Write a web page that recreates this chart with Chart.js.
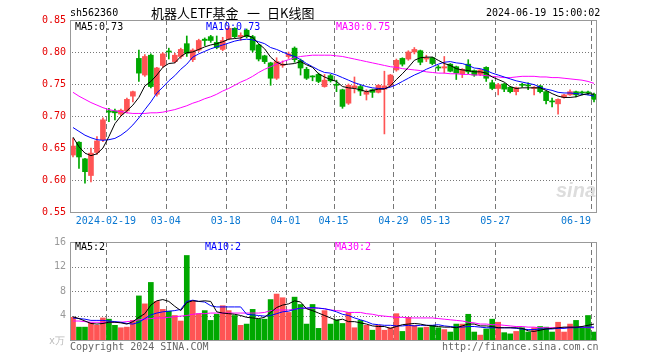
<!DOCTYPE html>
<html>
<head>
<meta charset="utf-8">
<script src="https://cdn.jsdelivr.net/npm/chart.js@4.4.1/dist/chart.umd.min.js"></script>
<style>
  body { margin: 0; background: #fff; }
  #wrap { position: relative; width: 660px; height: 360px; overflow: hidden;
          font-family: 'DejaVu Sans Mono', monospace; font-size: 10px; color: #000; }
  #wrap canvas { position: absolute; left: 0; }
  .t { position: absolute; white-space: pre; line-height: 10px; }
  .cjk { font-family: 'Noto Sans CJK SC', sans-serif; font-size: 13px; line-height: 14px; }
</style>
</head>
<body>
<div id="wrap">
  <canvas id="price" width="660" height="232" style="top:0"></canvas>
  <canvas id="vol" width="660" height="128" style="top:232px"></canvas>

  <div class="t" style="left:70px;top:8px">sh562360</div>
  <div class="t cjk" style="left:151px;top:6px">机器人ETF基金</div>
  <div class="t cjk" style="left:247px;top:6px">一</div>
  <div class="t cjk" style="left:267px;top:6px">日K线图</div>
  <div class="t" style="left:486px;top:8px">2024-06-19 15:00:02</div>

  <div class="t" style="left:75px;top:22px">MA5:0.73</div>
  <div class="t" style="left:206px;top:22px;color:#0000ff">MA10:0.73</div>
  <div class="t" style="left:336px;top:22px;color:#ff00ff">MA30:0.75</div>

  <div class="t" style="left:75px;top:242px">MA5:2</div>
  <div class="t" style="left:205px;top:242px;color:#0000ff">MA10:2</div>
  <div class="t" style="left:335px;top:242px;color:#ff00ff">MA30:2</div>

  <div class="t" style="left:49px;top:336px;color:#bbb">x万</div>
  <div class="t" style="left:70px;top:342px;color:#666">Copyright 2024 SINA.COM</div>
  <div class="t" style="left:442px;top:342px;color:#666">http://finance.sina.com.cn</div>
  <div class="t" style="left:556px;top:180px;font:italic bold 20px 'Liberation Sans',sans-serif;line-height:20px;color:#ddd">sina</div>
</div>

<script>
// trading days shown on the x axis
const dates = [
    '2024-02-01','2024-02-02','2024-02-05','2024-02-06','2024-02-07','2024-02-08','2024-02-19','2024-02-20','2024-02-21','2024-02-22',
    '2024-02-23','2024-02-26','2024-02-27','2024-02-28','2024-02-29','2024-03-01','2024-03-04','2024-03-05','2024-03-06','2024-03-07',
    '2024-03-08','2024-03-11','2024-03-12','2024-03-13','2024-03-14','2024-03-15','2024-03-18','2024-03-19','2024-03-20','2024-03-21',
    '2024-03-22','2024-03-25','2024-03-26','2024-03-27','2024-03-28','2024-03-29','2024-04-01','2024-04-02','2024-04-03','2024-04-08',
    '2024-04-09','2024-04-10','2024-04-11','2024-04-12','2024-04-15','2024-04-16','2024-04-17','2024-04-18','2024-04-19','2024-04-22',
    '2024-04-23','2024-04-24','2024-04-25','2024-04-26','2024-04-29','2024-04-30','2024-05-06','2024-05-07','2024-05-08','2024-05-09',
    '2024-05-10','2024-05-13','2024-05-14','2024-05-15','2024-05-16','2024-05-17','2024-05-20','2024-05-21','2024-05-22','2024-05-23',
    '2024-05-24','2024-05-27','2024-05-28','2024-05-29','2024-05-30','2024-05-31','2024-06-03','2024-06-04','2024-06-05','2024-06-06',
    '2024-06-07','2024-06-11','2024-06-12','2024-06-13','2024-06-14','2024-06-17','2024-06-18','2024-06-19'
];

const tickDates  = ['2024-02-19','2024-03-04','2024-03-18','2024-04-01','2024-04-15','2024-04-29','2024-05-13','2024-05-27','2024-06-19'];
const tickLabels = ['2024-02-19','03-04','03-18','04-01','04-15','04-29','05-13','05-27','06-19'];

const opens = [
    0.639,0.659,0.633,0.607,0.643,0.663,0.708,0.708,0.703,0.708,
    0.731,0.790,0.764,0.795,0.734,0.779,0.801,0.785,0.793,0.813,
    0.788,0.803,0.820,0.824,0.815,0.804,0.821,0.837,0.824,0.834,
    0.824,0.811,0.794,0.783,0.759,0.779,0.793,0.806,0.787,0.773,
    0.762,0.765,0.746,0.763,0.749,0.741,0.720,0.744,0.746,0.734,
    0.741,0.737,0.742,0.748,0.772,0.790,0.789,0.800,0.802,0.789,
    0.791,0.776,0.775,0.781,0.777,0.766,0.781,0.771,0.765,0.776,
    0.752,0.743,0.750,0.745,0.738,0.749,0.748,0.743,0.747,0.738,
    0.723,0.719,0.729,0.733,0.738,0.737,0.737,0.734
];
const highs = [
    0.665,0.660,0.634,0.650,0.668,0.697,0.712,0.711,0.711,0.728,
    0.739,0.803,0.796,0.797,0.776,0.799,0.806,0.798,0.806,0.825,
    0.805,0.820,0.822,0.826,0.825,0.823,0.840,0.838,0.830,0.836,
    0.826,0.812,0.795,0.784,0.791,0.786,0.800,0.808,0.789,0.776,
    0.763,0.767,0.765,0.765,0.756,0.742,0.750,0.761,0.748,0.741,
    0.742,0.749,0.770,0.765,0.789,0.791,0.802,0.807,0.803,0.795,
    0.792,0.779,0.793,0.782,0.778,0.774,0.788,0.772,0.773,0.777,
    0.756,0.751,0.751,0.746,0.745,0.751,0.752,0.746,0.748,0.739,
    0.728,0.727,0.734,0.741,0.739,0.739,0.739,0.736
];
const lows = [
    0.636,0.618,0.595,0.597,0.640,0.660,0.691,0.694,0.700,0.705,
    0.722,0.754,0.762,0.744,0.731,0.776,0.789,0.783,0.790,0.793,
    0.785,0.801,0.810,0.815,0.805,0.802,0.819,0.822,0.818,0.822,
    0.800,0.786,0.782,0.748,0.757,0.776,0.790,0.784,0.764,0.757,
    0.755,0.752,0.745,0.753,0.738,0.712,0.718,0.736,0.732,0.725,
    0.729,0.736,0.672,0.746,0.770,0.778,0.787,0.797,0.780,0.785,
    0.780,0.771,0.767,0.769,0.757,0.760,0.766,0.762,0.763,0.754,
    0.741,0.733,0.738,0.736,0.733,0.745,0.741,0.733,0.736,0.719,
    0.714,0.703,0.728,0.732,0.730,0.733,0.733,0.722
];
const closes = [
    0.653,0.636,0.613,0.642,0.661,0.694,0.706,0.705,0.709,0.726,
    0.738,0.767,0.793,0.746,0.775,0.797,0.800,0.795,0.804,0.798,
    0.803,0.818,0.818,0.818,0.807,0.818,0.837,0.824,0.826,0.824,
    0.803,0.789,0.785,0.759,0.785,0.781,0.797,0.788,0.775,0.759,
    0.761,0.754,0.756,0.755,0.748,0.715,0.748,0.747,0.739,0.738,
    0.737,0.748,0.747,0.764,0.787,0.781,0.800,0.804,0.784,0.791,
    0.782,0.775,0.777,0.770,0.767,0.773,0.769,0.764,0.772,0.759,
    0.743,0.749,0.742,0.738,0.744,0.748,0.747,0.745,0.738,0.724,
    0.722,0.726,0.733,0.738,0.733,0.736,0.736,0.726
];

const ma5 = [
    0.667,0.652,0.642,0.638,0.641,0.650,0.668,0.688,0.700,0.708,
    0.717,0.729,0.747,0.754,0.764,0.776,0.782,0.783,0.793,0.799,
    0.800,0.804,0.808,0.811,0.813,0.816,0.820,0.821,0.822,0.826,
    0.823,0.813,0.805,0.792,0.784,0.780,0.781,0.782,0.785,0.780,
    0.776,0.766,0.761,0.757,0.754,0.746,0.744,0.743,0.741,0.738,
    0.740,0.742,0.742,0.747,0.757,0.766,0.776,0.787,0.791,0.792,
    0.792,0.787,0.782,0.779,0.774,0.772,0.771,0.769,0.769,0.767,
    0.761,0.757,0.753,0.746,0.743,0.744,0.744,0.744,0.744,0.740,
    0.735,0.731,0.729,0.729,0.730,0.733,0.735,0.734
];
const ma10 = [
    0.682,0.676,0.670,0.666,0.663,0.662,0.663,0.665,0.670,0.677,
    0.686,0.697,0.710,0.722,0.736,0.745,0.755,0.763,0.773,0.781,
    0.792,0.797,0.801,0.805,0.808,0.811,0.814,0.817,0.819,0.820,
    0.819,0.816,0.813,0.807,0.804,0.800,0.796,0.793,0.788,0.782,
    0.777,0.772,0.768,0.767,0.764,0.760,0.756,0.752,0.749,0.746,
    0.744,0.743,0.743,0.745,0.749,0.754,0.759,0.764,0.768,0.773,
    0.777,0.781,0.784,0.785,0.783,0.782,0.779,0.775,0.774,0.771,
    0.767,0.764,0.761,0.758,0.755,0.753,0.751,0.749,0.745,0.742,
    0.740,0.737,0.736,0.736,0.735,0.734,0.733,0.731
];
const ma30 = [
    0.737,0.731,0.726,0.721,0.717,0.713,0.710,0.708,0.707,0.705,
    0.704,0.704,0.704,0.705,0.705,0.706,0.708,0.710,0.713,0.716,
    0.720,0.723,0.727,0.730,0.734,0.739,0.743,0.748,0.753,0.757,
    0.762,0.768,0.773,0.777,0.781,0.785,0.788,0.791,0.793,0.794,
    0.795,0.795,0.795,0.795,0.794,0.793,0.791,0.789,0.787,0.785,
    0.783,0.781,0.779,0.777,0.776,0.774,0.773,0.772,0.771,0.769,
    0.768,0.767,0.767,0.766,0.766,0.765,0.765,0.764,0.764,0.763,
    0.762,0.761,0.760,0.760,0.761,0.762,0.762,0.762,0.761,0.761,
    0.760,0.760,0.759,0.758,0.757,0.756,0.754,0.751
];

// volume, 万手
const volumes = [
    3.7,2.1,2.1,2.8,2.4,3.6,3.4,2.4,2.0,2.1,
    3.2,7.2,5.9,9.4,6.3,5.0,4.7,4.0,3.1,13.8,
    6.4,4.3,4.8,3.2,4.2,5.6,4.8,4.0,2.4,2.6,
    5.0,3.4,3.4,6.6,7.5,6.9,4.5,7.0,5.8,2.6,
    5.8,1.9,4.8,2.6,3.3,2.7,4.5,2.0,3.2,2.4,
    1.6,2.4,1.6,2.0,4.3,1.4,3.7,2.4,2.0,2.1,
    2.4,2.0,1.7,1.3,2.6,2.6,4.2,1.3,0.8,1.8,
    3.4,2.9,1.2,1.0,1.4,2.0,1.3,2.0,2.2,2.1,
    1.3,2.9,1.3,2.6,3.2,2.0,4.0,1.3
];
const volMa5 = [
    3.8,3.5,3.1,2.7,2.6,2.7,2.9,2.9,2.8,2.6,
    3.0,3.7,4.3,5.7,6.4,6.6,6.3,5.5,4.8,6.1,
    6.4,6.3,6.4,6.3,4.6,4.4,4.3,4.2,4.0,3.7,
    3.6,3.5,3.7,4.5,5.3,5.7,5.9,6.4,6.2,5.1,
    4.8,4.4,4.0,3.6,3.2,3.4,3.0,3.0,2.8,2.6,
    2.3,2.2,2.2,1.9,2.2,2.5,2.6,2.7,2.6,2.4,
    2.3,2.2,2.1,2.1,2.0,2.3,2.6,2.6,2.3,2.3,
    2.2,2.0,2.0,2.0,2.0,1.9,1.5,1.4,1.6,1.8,
    1.9,2.0,2.1,2.1,2.1,2.2,2.4,2.6
];
const volMa10 = [
    3.6,3.5,3.4,3.2,3.2,3.2,3.1,3.0,2.9,2.7,
    2.6,2.9,3.5,4.1,4.4,4.6,4.7,4.8,5.0,6.3,
    6.5,6.3,6.2,5.6,5.4,5.4,5.4,5.4,5.4,4.2,
    4.1,4.0,3.9,4.0,4.3,4.6,4.7,5.0,5.2,5.2,
    5.3,5.2,5.1,4.9,4.6,4.2,4.0,3.6,3.3,3.0,
    2.6,2.5,2.4,2.4,2.3,2.3,2.4,2.3,2.4,2.4,
    2.4,2.5,2.3,2.2,2.1,2.1,2.2,2.2,2.1,2.0,
    2.0,2.0,2.0,2.0,1.9,1.8,1.7,1.7,1.8,1.8,
    1.8,1.9,1.9,2.0,2.0,2.1,2.1,2.1
];
const volMa30 = [
    3.1,3.1,3.0,2.9,2.9,2.9,2.9,2.9,2.9,3.0,
    3.1,3.3,3.4,3.5,3.6,3.6,3.7,3.8,3.9,4.0,
    4.2,4.3,4.3,4.4,4.4,4.4,4.4,4.4,4.4,4.4,
    4.4,4.4,4.5,4.8,4.9,4.9,4.9,5.0,5.2,5.2,
    5.2,5.2,5.1,4.9,4.8,4.7,4.5,4.5,4.5,4.3,
    4.2,4.0,3.9,3.8,3.7,3.7,3.6,3.6,3.6,3.6,
    3.6,3.5,3.4,3.3,3.2,3.1,2.9,2.8,2.6,2.6,
    2.5,2.5,2.4,2.3,2.2,2.2,2.1,2.1,2.0,2.0,
    2.0,2.0,2.0,2.1,2.1,2.1,2.0,2.0
];

const MONO = "'DejaVu Sans Mono', monospace";
const UP = '#ff5454';
const DOWN = '#00a800';
const GRID = '#777777';

const barColors = opens.map((o, i) => (closes[i] >= o ? UP : DOWN));

// dotted value lines, dashed date lines and the grey box, placed with the chart's own scales
const panelPlugin = {
    id: 'panel',
    beforeDatasetsDraw(chart) {
        const ctx = chart.ctx;
        const a = chart.chartArea;
        const xs = chart.scales.x;
        const ys = chart.scales.y;
        const left = Math.round(a.left);
        const right = Math.round(a.right);
        const top = Math.round(a.top);
        const bottom = Math.round(a.bottom);
        const half = (xs.getPixelForValue(1) - xs.getPixelForValue(0)) / 2;
        const rows = ys.getTicks().map((t) => Math.round(ys.getPixelForValue(t.value)));
        const cols = tickDates.map((d) => Math.round(xs.getPixelForValue(dates.indexOf(d)) - half));

        ctx.save();
        ctx.fillStyle = GRID;
        rows.forEach((py) => {
            for (let px = left + 2; px < right; px += 3) ctx.fillRect(px, py, 1, 1);
        });
        cols.forEach((px) => {
            for (let py = top; py < bottom; py += 8) ctx.fillRect(px, py, 1, Math.min(5, bottom - py));
        });
        ctx.restore();
    },
    afterDatasetsDraw(chart) {
        const { ctx, chartArea: a } = chart;
        ctx.save();
        ctx.strokeStyle = '#999';
        ctx.lineWidth = 1;
        ctx.strokeRect(Math.round(a.left) + 0.5, Math.round(a.top) + 0.5,
            Math.round(a.right - a.left) - 1, Math.round(a.bottom - a.top));
        ctx.restore();
    }
};

function xScale(showLabels) {
    return {
        type: 'category',
        offset: true,
        grid: { display: false, offset: true, drawTicks: false },
        border: { display: false },
        ticks: {
            display: showLabels,
            autoSkip: false,
            maxRotation: 0,
            minRotation: 0,
            labelOffset: -3,
            padding: 3,
            color: '#0a78d2',
            font: { family: MONO, size: 10 },
            callback: (v, i) => {
                const k = tickDates.indexOf(dates[i]);
                if (k < 0) return '';
                // last label is pushed left so it stays inside the frame
                return k === tickDates.length - 1 ? tickLabels[k] + '     ' : tickLabels[k];
            }
        },
        afterFit: (s) => { s.height = showLabels ? 20 : 0; }
    };
}

function maLine(data, color) {
    return {
        type: 'line',
        data: data,
        borderColor: color,
        borderWidth: 1,
        pointRadius: 0,
        tension: 0,
        order: 0
    };
}

new Chart(document.getElementById('price'), {
    type: 'bar',
    data: {
        labels: dates,
        datasets: [
            {
                data: lows.map((l, i) => [l, highs[i]]),
                backgroundColor: barColors,
                barThickness: 1,
                grouped: false,
                order: 2
            },
            {
                data: opens.map((o, i) => [o, closes[i]]),
                backgroundColor: barColors,
                barThickness: 5,
                minBarLength: 1,
                grouped: false,
                order: 1
            },
            maLine(ma5, '#000000'),
            maLine(ma10, '#0000ff'),
            maLine(ma30, '#ff00ff')
        ]
    },
    options: {
        responsive: false,
        animation: false,
        events: [],
        layout: { padding: { left: 0, right: 63, top: 20, bottom: 0 } },
        plugins: { legend: { display: false }, tooltip: { enabled: false } },
        scales: {
            x: xScale(true),
            y: {
                min: 0.55,
                max: 0.85,
                grid: { display: false, drawTicks: false },
                border: { display: false },
                ticks: {
                    stepSize: 0.05,
                    padding: 4,
                    color: '#e60000',
                    font: { family: MONO, size: 10 },
                    callback: (v) => v.toFixed(2)
                },
                afterFit: (s) => { s.width = 70; }
            }
        }
    },
    plugins: [panelPlugin]
});

new Chart(document.getElementById('vol'), {
    type: 'bar',
    data: {
        labels: dates,
        datasets: [
            {
                data: volumes,
                backgroundColor: barColors,
                barThickness: 5,
                order: 1
            },
            maLine(volMa5, '#000000'),
            maLine(volMa10, '#0000ff'),
            maLine(volMa30, '#ff00ff')
        ]
    },
    options: {
        responsive: false,
        animation: false,
        events: [],
        layout: { padding: { left: 0, right: 63, top: 8, bottom: 20 } },
        plugins: { legend: { display: false }, tooltip: { enabled: false } },
        scales: {
            x: xScale(false),
            y: {
                min: 0,
                max: 16,
                grid: { display: false, drawTicks: false },
                border: { display: false },
                ticks: {
                    stepSize: 4,
                    padding: 4,
                    color: '#999999',
                    font: { family: MONO, size: 10 },
                    callback: (v) => (v === 0 ? '' : v)
                },
                afterFit: (s) => { s.width = 70; }
            }
        }
    },
    plugins: [panelPlugin]
});
</script>
</body>
</html>
